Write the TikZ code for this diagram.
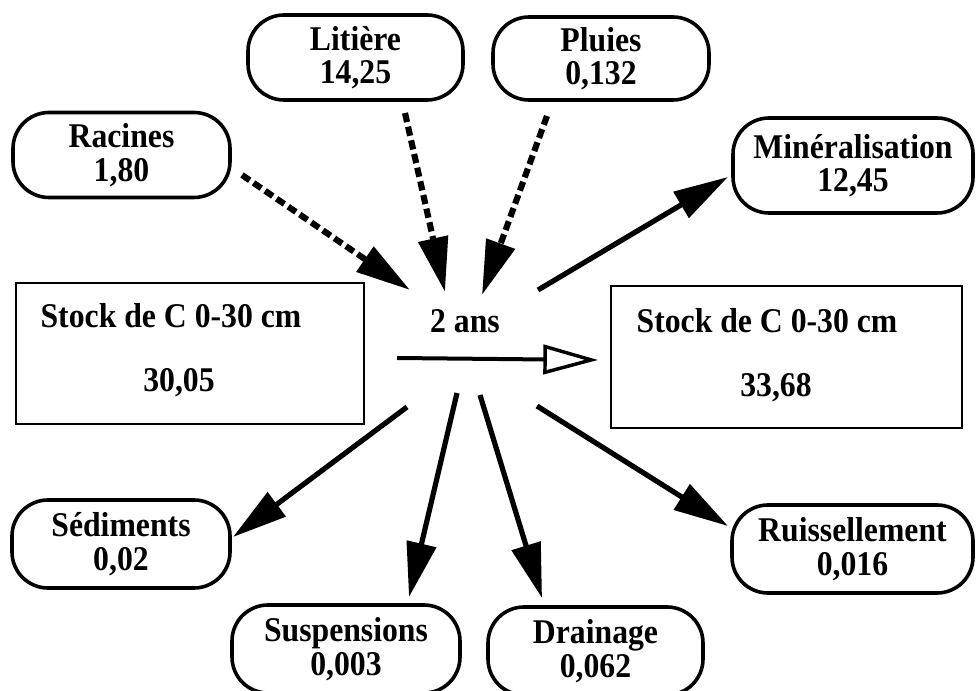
\documentclass[tikz,border=0pt]{standalone}
\usepackage{fontspec}
\setmainfont[FakeStretch=0.915]{Liberation Serif}
\usetikzlibrary{arrows.meta}
\newcommand\lbl{\fontsize{26}{25}\selectfont\bfseries}
\begin{document}
\begin{tikzpicture}[x=0.75pt,y=-0.75pt,
  pill/.style={draw, line width=2.7pt, rounded corners=27pt, align=center, inner sep=0pt, font=\lbl},
  stockbox/.style={draw, line width=1.8pt, inner sep=0pt},
  txt/.style={font=\lbl, inner sep=0pt, anchor=base},
  flow/.style={line width=3.9pt, -{Triangle[length=41pt,width=22pt]}},
  inflow/.style={flow, line width=4.6pt, dash pattern=on 7pt off 3.5pt},
  timearrow/.style={line width=3pt, -{Triangle[open,length=41pt,width=22pt,line width=2.6pt]}}
]
\useasboundingbox (0,0) rectangle (978,691);

% source / sink boxes
\node[pill, minimum width=161.25pt, minimum height=63.75pt] (lit) at (355.5,57.5) {Litière\\14,25};
\node[pill, minimum width=162pt, minimum height=62.25pt] (plu) at (601,58.5) {Pluies\\0,132};
\node[pill, minimum width=162.75pt, minimum height=63.75pt] (rac) at (121.5,155) {Racines\\1,80};
\node[pill, minimum width=180pt, minimum height=71.25pt] (min) at (853,165.5) {Minéralisation\\12,45};
\node[pill, minimum width=163.5pt, minimum height=66pt] (sed) at (121,544) {Sédiments\\0,02};
\node[pill, minimum width=171pt, minimum height=66pt] (sus) at (346,649) {Suspensions\\0,003};
\node[pill, minimum width=161.25pt, minimum height=66pt] (dra) at (595.5,651) {Drainage\\0,062};
\node[pill, minimum width=180.75pt, minimum height=66pt] (rui) at (852.5,549) {Ruissellement\\0,016};

% stock boxes
\node[stockbox, minimum width=261pt, minimum height=105.75pt] (stockA) at (190,353.5) {};
\node[stockbox, minimum width=263.25pt, minimum height=106.5pt] (stockB) at (786.5,357) {};
\node[txt] (stockAt) at (171,328) {Stock de C 0-30 cm};
\node[txt] (stockAv) at (179,392) {30,05};
\node[txt] (stockBt) at (767,333) {Stock de C 0-30 cm};
\node[txt] (stockBv) at (776,397) {33,68};

% hub
\node[txt] (hub) at (465,333) {2 ans};

% connector end points around the hub
\coordinate (racS) at (242,175);  \coordinate (racT) at (410,290);
\coordinate (litS) at (405,113);  \coordinate (litT) at (445,292);
\coordinate (pluS) at (547,116);  \coordinate (pluT) at (482,295);
\coordinate (minS) at (538,290);  \coordinate (minT) at (728,177);
\coordinate (sedS) at (407,407);  \coordinate (sedT) at (233,537);
\coordinate (susS) at (457,393);  \coordinate (susT) at (409,597);
\coordinate (draS) at (480,395);  \coordinate (draT) at (542,598);
\coordinate (ruiS) at (537,406);  \coordinate (ruiT) at (728,526);
\coordinate (timeS) at (397,358); \coordinate (timeT) at (598,360);

% inputs (dashed)
\draw[inflow] (racS) -- (racT);
\draw[inflow] (litS) -- (litT);
\draw[inflow] (pluS) -- (pluT);

% outputs
\draw[flow] (minS) -- (minT);
\draw[flow] (sedS) -- (sedT);
\draw[flow] (susS) -- (susT);
\draw[flow] (draS) -- (draT);
\draw[flow] (ruiS) -- (ruiT);

% time arrow
\draw[timearrow] (timeS) -- (timeT);
\end{tikzpicture}
\end{document}
